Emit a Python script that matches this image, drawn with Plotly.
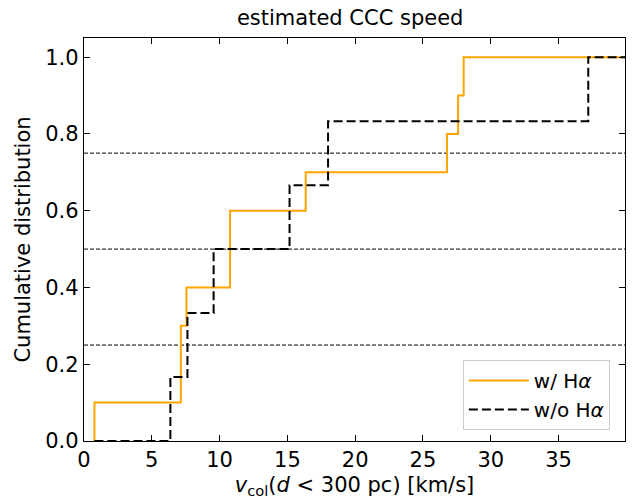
import numpy as np
import plotly.graph_objects as go

# Data (km/s)
v_with_ha = [0.77, 7.14, 7.14, 7.56, 10.77, 10.77, 16.35, 26.77, 27.59, 28.0]
v_without_ha = [6.37, 7.63, 9.56, 15.16, 18.0, 37.19]
ref_levels = [0.25, 0.5, 0.75]
x_ticks = [0, 5, 10, 15, 20, 25, 30, 35]
y_ticks = [0.0, 0.2, 0.4, 0.6, 0.8, 1.0]

X_MAX = 39.9
start = min(min(v_with_ha), min(v_without_ha))


def cdf_path(vals):
    v = np.sort(np.asarray(vals, dtype=float))
    n = len(v)
    y = np.arange(1, n + 1) / n
    xs = [start, v[0]] + list(v) + [X_MAX + 5]
    ys = [0.0, 0.0] + list(y) + [1.0]
    return xs, ys


font = "DejaVu Sans, Liberation Sans, sans-serif"
FS = 21
fig = go.Figure()

xo, yo = cdf_path(v_with_ha)
fig.add_trace(go.Scatter(x=xo, y=yo, mode="lines", line_shape="hv",
                         line=dict(color="#FFA500", width=2),
                         name="w/ H<i>α</i>"))
xb, yb = cdf_path(v_without_ha)
fig.add_trace(go.Scatter(x=xb, y=yb, mode="lines", line_shape="hv",
                         line=dict(color="black", width=2, dash="9px,4px"),
                         name="w/o H<i>α</i>"))

for lvl in ref_levels:
    fig.add_shape(type="line", xref="paper", yref="y", x0=0, x1=1, y0=lvl, y1=lvl,
                  line=dict(color="black", width=1, dash="4px,2px"), layer="below")

axis_common = dict(showgrid=False, zeroline=False, showline=True, linecolor="black",
                   linewidth=1.3, mirror="allticks", ticks="inside", ticklen=6,
                   tickwidth=1.2, tickcolor="black",
                   tickfont=dict(family=font, size=FS, color="black"))

fig.update_xaxes(range=[0, X_MAX], tickvals=x_ticks, ticktext=[str(t) for t in x_ticks],
                 title=dict(text="<i>v</i><sub>col</sub>(<i>d</i> &lt; 300 pc) [km/s]",
                            font=dict(family=font, size=FS, color="black"), standoff=5),
                 **axis_common)
fig.update_yaxes(range=[0, 1.05], tickvals=y_ticks, ticktext=[f"{t:.1f}" for t in y_ticks],
                 title=dict(text="Cumulative distribution",
                            font=dict(family=font, size=FS, color="black"), standoff=8),
                 **axis_common)

fig.update_layout(
    width=634, height=501,
    margin=dict(l=84, r=9, t=38, b=60),
    paper_bgcolor="white", plot_bgcolor="white",
    title=dict(text="estimated CCC speed", x=0.492, xref="paper", xanchor="center",
               y=0.964, yanchor="middle", yref="container",
               font=dict(family=font, size=FS, color="black")),
    legend=dict(x=0.972, y=0.027, xanchor="right", yanchor="bottom",
                bgcolor="rgba(255,255,255,0.8)", bordercolor="#cccccc", borderwidth=1,
                font=dict(family=font, size=20, color="black"),
                itemwidth=60, tracegroupgap=4),
    showlegend=True,
)

fig.write_html("out.html")
